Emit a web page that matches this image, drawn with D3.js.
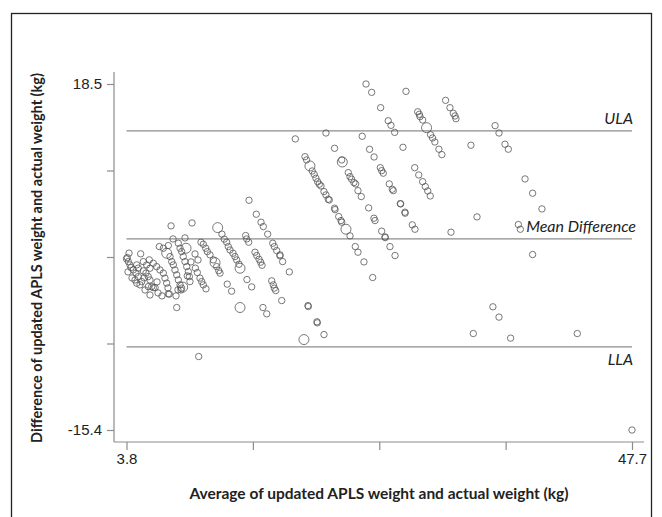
<!DOCTYPE html>
<html>
<head>
<meta charset="utf-8">
<script src="https://cdnjs.cloudflare.com/ajax/libs/d3/7.8.5/d3.min.js"></script>
<style>
  body { margin: 0; background: #fff; }
  svg { display: block; }
</style>
</head>
<body>
<div id="chart"></div>
<script>
// Chart size
var width = 662;
var height = 517;

// Axis ends (min / max of data) and tick values
var xTicks = [3.8, 14.775, 25.75, 36.725, 47.7];
var yTicks = [18.5, 10.025, 1.55, -6.925, -15.4];
var xTickLabels = ["3.8", "", "", "", "47.7"];
var yTickLabels = ["18.5", "", "", "", "-15.4"];

// Limits of agreement
var refNames = ["ULA", "Mean Difference", "LLA"];
var refValues = [13.9, 3.32, -7.26];

// Points: average (kg), difference (kg)
var avgValues = [
  24.6, 25.09, 28.07, 25.87, 31.51, 31.89, 32.18, 32.33, 32.41, 29.09, 29.23, 29.29, 29.52,
  26.53, 26.77, 27.09, 29.86, 30.21, 30.38, 30.58, 30.93, 31.19, 33.71, 18.46, 21.12, 24.27,
  21.87, 24.91, 25.3, 27.81, 22.49, 22.54, 19.3, 19.44, 19.73, 19.93, 20.1, 20.25, 20.4,
  20.54, 20.69, 20.95, 21.12, 21.32, 21.41, 21.87, 23.06, 23.21, 23.35, 23.55, 23.7, 23.9,
  24.19, 25.84, 25.96, 26.1, 26.62, 26.88, 26.97, 27.58, 24.83, 28.83, 29.18, 29.52, 29.75,
  29.96, 30.18, 21.91, 22.23, 22.43, 22.49, 22.86, 23.21, 23.67, 23.9, 24.42, 25.18, 25.29,
  25.38, 25.96, 26.25, 26.27, 26.68, 27.12, 27.61, 27.98, 28.0, 28.62, 28.85, 31.98, 34.24,
  17.13, 17.36, 17.94, 17.28, 19.56, 19.59, 20.34, 20.37, 20.95, 19.21, 33.92, 35.81, 36.15,
  36.67, 36.96, 38.41, 39.07, 39.88, 37.83, 38.0, 39.07, 35.62, 36.15, 37.16, 42.95, 10.07,
  47.7, 14.44, 7.67, 9.49, 11.72, 15.07, 15.48, 15.68, 16.06, 14.15, 14.24, 14.41, 12.09,
  12.29, 12.5, 12.64, 12.79, 13.05, 13.22, 13.37, 13.57, 13.66, 14.96, 15.11, 15.31, 15.45,
  15.57, 16.5, 16.64, 16.84, 17.13, 14.26, 14.67, 12.55, 12.93, 16.41, 16.55, 16.64, 16.76,
  13.66, 15.65, 15.98, 8.16, 10.27, 10.47, 10.68, 10.82, 11.05, 11.34, 11.49, 11.63, 11.81,
  11.92, 9.78, 9.95, 10.18, 10.33, 10.47, 10.7, 9.08, 8.68, 8.27, 7.43, 3.87, 3.8, 3.96,
  4.1, 4.19, 4.39, 4.62, 4.82, 5.12, 4.97, 5.03, 4.69, 4.82, 5.26, 5.49, 5.69, 5.84, 5.99,
  6.28, 5.78, 6.13, 6.42, 6.71, 7.0, 7.14, 7.29, 6.65, 7.0, 7.43, 7.29, 7.58, 7.73, 7.87,
  8.01, 8.16, 8.3, 8.45, 8.59, 8.3, 8.45, 8.59, 8.73, 8.88, 9.03, 9.17, 9.26, 9.31, 8.97,
  5.26, 5.55, 5.84, 7.52, 8.53, 4.54, 4.69, 5.69, 6.13, 4.02,
  5.41, 6.54, 6.88, 5.84, 3.93, 4.28, 5.32, 6.45, 7.4, 9.4, 9.75, 7.84, 8.88, 10.01, 8.1
];
var diffValues = [
  18.5, 17.68, 17.78, 16.18, 16.9, 16.18, 15.63, 15.37, 15.1, 15.78, 15.53, 15.3, 14.97,
  14.9, 14.45, 13.76, 14.22, 13.53, 13.21, 12.82, 12.11, 11.58, 12.5, 13.12, 13.7, 13.38,
  12.2, 12.1, 11.35, 12.3, 11.06, 10.86, 11.38, 11.06, 10.47, 9.98, 9.66, 9.27, 8.93,
  8.68, 8.51, 7.96, 7.63, 7.21, 7.14, 6.33, 9.82, 9.42, 9.17, 8.84, 8.71, 8.05,
  7.47, 10.3, 10.01, 9.76, 8.71, 8.19, 8.05, 6.78, 6.36, 10.3, 9.59, 8.93, 8.45,
  8.02, 7.53, 6.19, 5.51, 5.12, 4.96, 4.27, 3.62, 2.57, 2.02, 1.07, -0.46, 5.35,
  5.12, 4.08, 3.52, 3.45, 2.57, 1.69, 6.75, 5.94, 5.84, 4.7, 4.27, 3.98, 5.48,
  1.76, 1.1, 0.09, -2.72, -3.21, -3.3, -4.8, -4.9, -6.05, -6.54, -5.95, 14.42, 13.7,
  12.6, 12.11, 9.2, 7.8, 6.26, 4.73, 4.27, 1.79, -3.33, -4.34, -6.4, -5.95, -8.2,
  -15.4, 7.11, 4.6, 4.89, 4.43, 5.74, 4.96, 4.53, 3.79, 3.65, 3.32, 3.0, 3.79,
  3.3, 3.0, 2.57, 2.24, 1.92, 1.59, 1.26, 0.84, 0.45, 2.02, 1.69, 1.33, 1.04,
  0.74, 2.9, 2.57, 2.18, 1.66, -0.66, -1.38, -1.11, -1.8, -0.79, -1.18, -1.5, -1.74,
  -3.4, -3.4, -4.02, -3.4, 3.0, 2.8, 2.41, 2.08, 1.76, 1.27, 1.0, 0.61, 0.22,
  -0.03, 0.46, 0.03, -0.52, -0.86, -1.18, -1.57, -0.3, -1.4, -1.67, -2.06, 1.5, 1.37, 1.1,
  0.78, 0.51, 0.29, -0.03, -0.37, -0.86, -1.18, 1.86, 0.78, 0.46, 0.19, -0.03, -0.37, -0.7, -1.35,
  -1.45, 1.27, 0.94, 0.61, 0.28, -0.03, -0.52, -1.01, 2.57, 2.41, 2.67, 1.92, 1.59, 1.1, 0.78,
  0.28, -0.2, -0.69, -1.18, -1.5, 2.9, 2.41, 2.08, 1.59, 1.1, 0.61, 0.12, -0.37, -0.86, 2.41,
  1.1, 0.78, 0.45, -2.09, -1.68, -0.7, -1.02, -1.35, -1.45, 1.93,
  -1.68, -1.97, -2.26, -2.17, 0.09, -0.5, -0.5, -0.89, -1.48, 1.07, 1.85, 3.32, 3.42, 1.26, -2.26
];
// indices of the bigger circles (repeated observations)
var largeIdx = [16, 31, 34, 71, 100, 121, 138, 156, 166, 177, 227, 209];

var points = avgValues.map(function (a, i) {
  return { avg: a, diff: diffValues[i], large: largeIdx.indexOf(i) >= 0 };
});

// Scales
var x = d3.scaleLinear().domain([3.8, 47.7]).range([126.5, 632]);
var y = d3.scaleLinear().domain([18.5, -15.4]).range([84, 430]);

var axisColor = "#8c8c8c";
var axisX0 = 114, axisY0 = 442;

var svg = d3.select("#chart")
    .append("svg")
    .attr("width", width)
    .attr("height", height);

svg.append("rect")
    .attr("width", width)
    .attr("height", height)
    .attr("fill", "#fff");

// Outer frame
svg.append("rect")
    .attr("x", 11.5)
    .attr("y", 13.5)
    .attr("width", 640)
    .attr("height", 520)
    .attr("fill", "none")
    .attr("stroke", "#222")
    .attr("stroke-width", 1.3);

// Y axis
var yAxis = d3.axisLeft(y)
    .tickValues(yTicks)
    .tickSize(7)
    .tickPadding(5)
    .tickFormat(function (d, i) { return yTickLabels[i]; });

var gy = svg.append("g")
    .attr("transform", "translate(" + axisX0 + ",0)")
    .call(yAxis);
gy.select(".domain").attr("d", "M0,72V" + axisY0);

// X axis
var xAxis = d3.axisBottom(x)
    .tickValues(xTicks)
    .tickSize(8)
    .tickPadding(3)
    .tickFormat(function (d, i) { return xTickLabels[i]; });

var gx = svg.append("g")
    .attr("transform", "translate(0," + axisY0 + ")")
    .call(xAxis);
gx.select(".domain").attr("d", "M" + axisX0 + ",0H644");

svg.selectAll(".domain, .tick line")
    .attr("stroke", axisColor)
    .attr("stroke-width", 1.2);
svg.selectAll(".tick text")
    .attr("fill", "#222")
    .style("font-family", "'Liberation Sans', Arial, sans-serif")
    .style("font-size", "15px");

// Reference lines
svg.selectAll("line.ref")
    .data(refValues)
    .enter()
    .append("line")
    .attr("class", "ref")
    .attr("x1", x(3.8))
    .attr("x2", x(47.7))
    .attr("y1", function (d) { return y(d); })
    .attr("y2", function (d) { return y(d); })
    .attr("stroke", "#8c8c8c")
    .attr("stroke-width", 1.2);

// Reference labels: ULA & Mean Difference above, LLA below
svg.selectAll("text.ref")
    .data(refValues)
    .enter()
    .append("text")
    .attr("class", "ref")
    .attr("x", function (d, i) { return i === 1 ? 636 : 633; })
    .attr("y", function (d, i) { return i === 2 ? y(d) + 18 : y(d) - 7; })
    .attr("text-anchor", "end")
    .style("font-family", "Lato, sans-serif")
    .style("font-style", "italic")
    .style("font-size", "16px")
    .attr("fill", "#222")
    .text(function (d, i) { return refNames[i]; });

// Points
svg.append("g")
    .selectAll("circle")
    .data(points)
    .enter()
    .append("circle")
    .attr("cx", function (d) { return x(d.avg); })
    .attr("cy", function (d) { return y(d.diff); })
    .attr("r", function (d) { return d.large ? 5 : 3.2; })
    .attr("fill", "none")
    .attr("stroke", "#555")
    .attr("stroke-width", 0.8);

// Axis titles
svg.append("text")
    .attr("x", 379)
    .attr("y", 499)
    .attr("text-anchor", "middle")
    .style("font-family", "Lato, sans-serif")
    .style("font-weight", "bold")
    .style("font-size", "15.5px")
    .attr("fill", "#222")
    .text("Average of updated APLS weight and actual weight (kg)");

svg.append("text")
    .attr("transform", "translate(42,258) rotate(-90)")
    .attr("text-anchor", "middle")
    .style("font-family", "Lato, sans-serif")
    .style("font-weight", "bold")
    .style("font-size", "14.5px")
    .attr("fill", "#222")
    .text("Difference of updated APLS weight and actual weight (kg)");
</script>
</body>
</html>
